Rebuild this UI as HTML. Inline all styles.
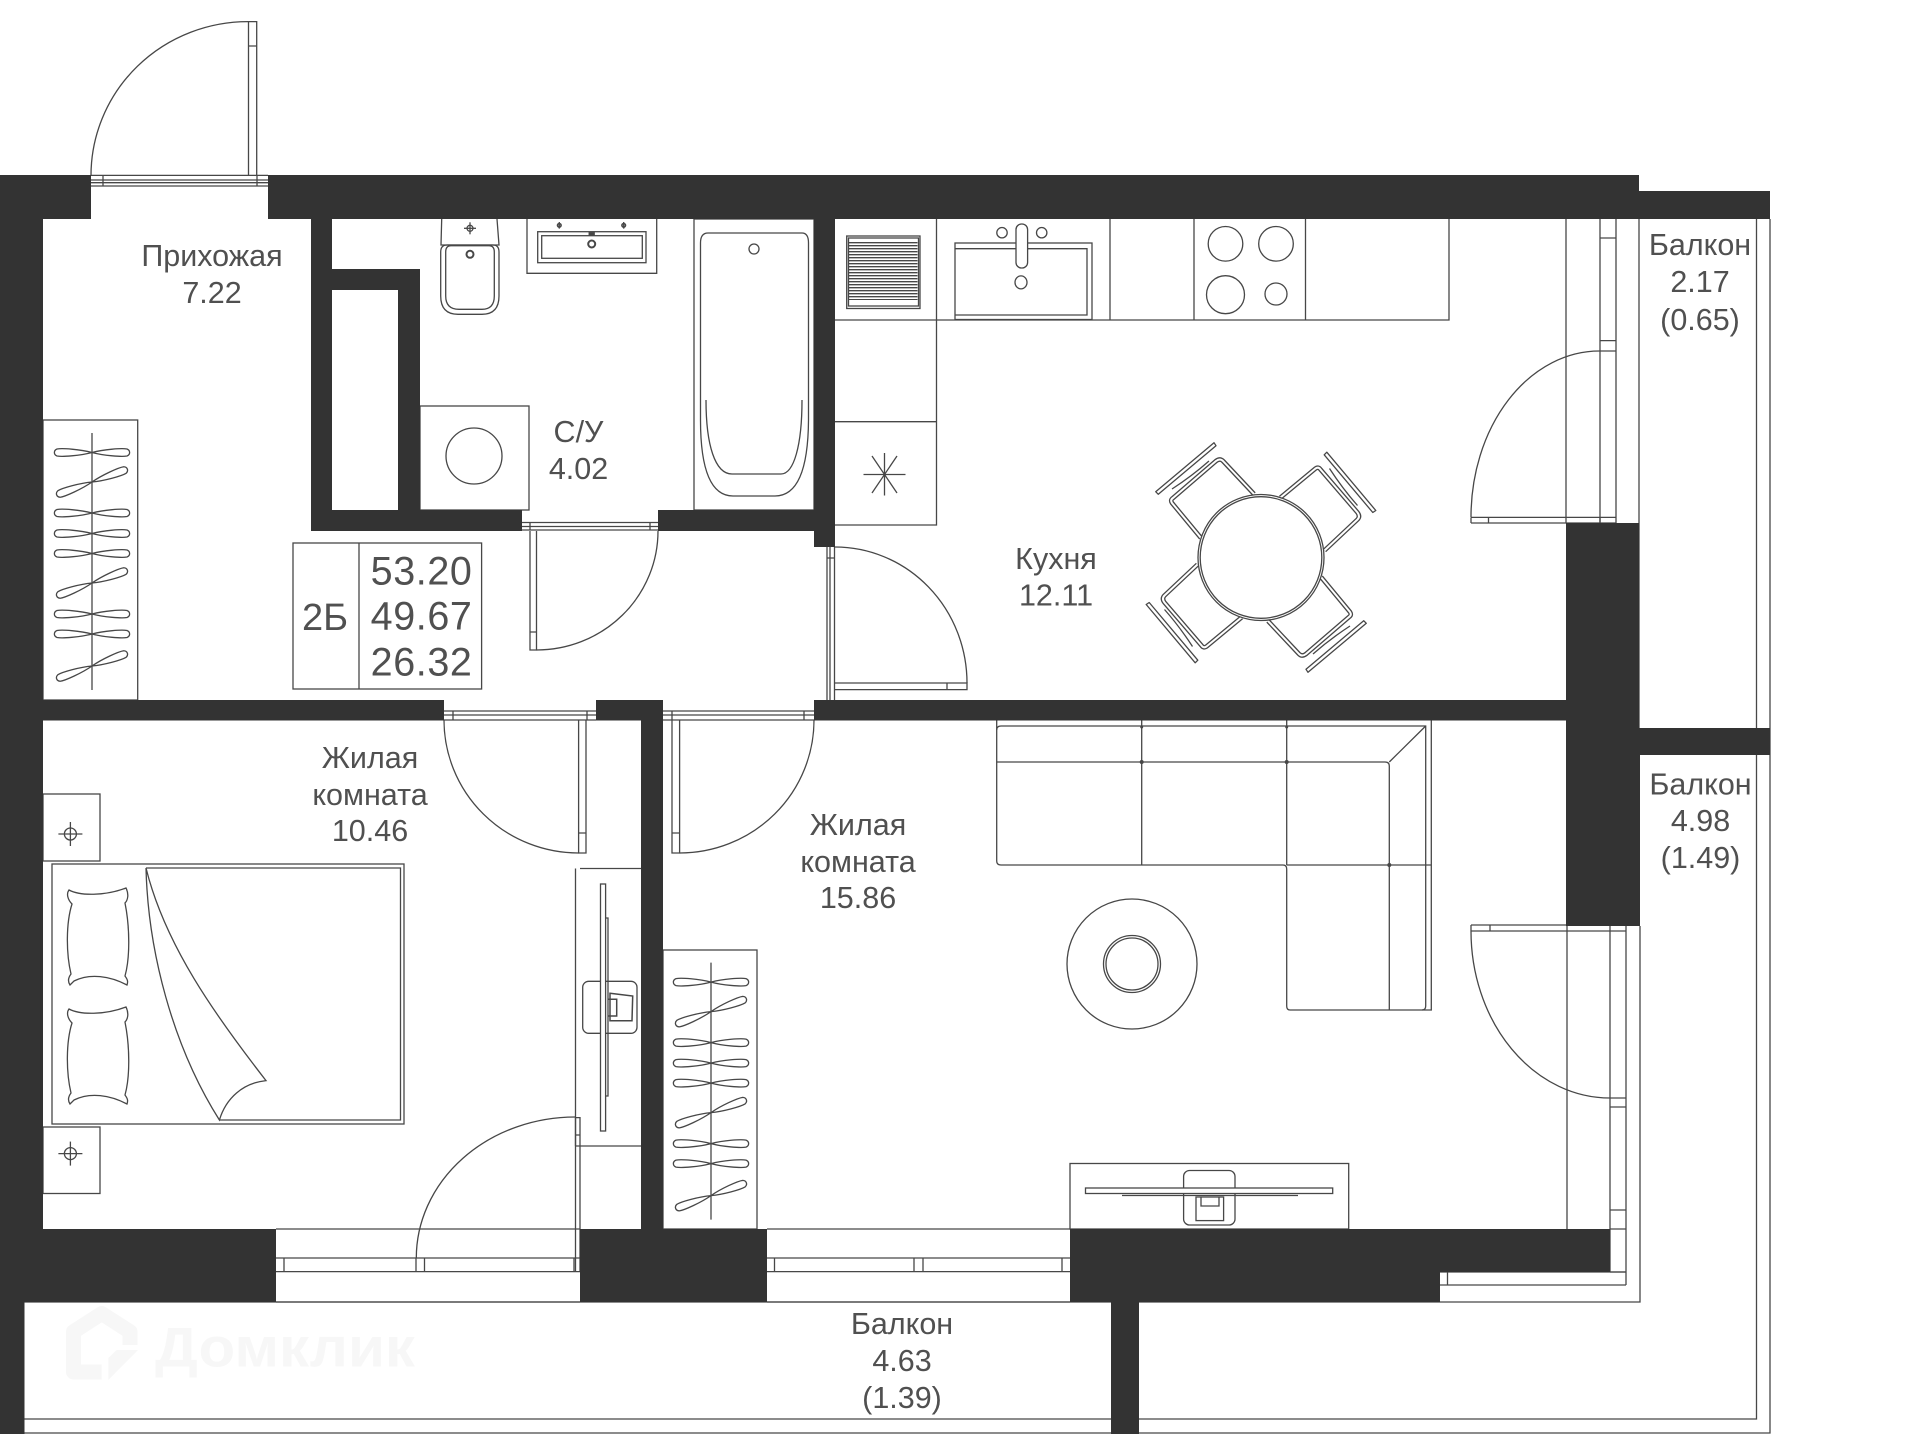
<!DOCTYPE html>
<html lang="ru"><head><meta charset="utf-8"><title>План квартиры</title>
<style>html,body{margin:0;padding:0;background:#fff}svg{display:block}
text{font-family:"Liberation Sans","DejaVu Sans",sans-serif;fill:#505050;text-anchor:middle;font-size:30.500px}
.n{font-size:39.500px;letter-spacing:.6px}
</style></head><body>
<svg width="1920" height="1434" viewBox="0 0 1920 1434" xmlns="http://www.w3.org/2000/svg">
<defs>
<path id="h" d="M0 0C-12-3.200-30-4.500-35-3.500C-38.500-2-38.500 2-35 3.500C-30 4.500-12 3.200 0 0C12-3.200 30-4.500 35-3.500C38.500-2 38.500 2 35 3.500C30 4.500 12 3.200 0 0Z"/>
<g id="hangers">
<line x1="0" y1="0" x2="0" y2="257"/>
<use href="#h" y="19.500"/><use href="#h" y="49" transform="rotate(-20 0 49)"/><use href="#h" y="80"/><use href="#h" y="100.500"/><use href="#h" y="120.500"/><use href="#h" y="150" transform="rotate(-20 0 150)"/><use href="#h" y="181"/><use href="#h" y="201"/><use href="#h" y="233" transform="rotate(-20 0 233)"/>
</g>
<g id="cross"><circle r="6"/><line x1="-12" x2="12"/><line y1="-12" y2="12"/></g>
<g id="chair">
<path d="M1155.700 491.700L1214 442.700L1216 445.700L1158.300 494.300Z" stroke-linejoin="round"/>
<path d="M1172 489Q1192 476 1209 461"/>
<path d="M1201 538L1172 503Q1170 500 1173 498L1216 461Q1220 458 1223 461L1254 494" stroke-width="4.600" stroke-linejoin="round"/>
<path d="M1201 538L1172 503Q1170 500 1173 498L1216 461Q1220 458 1223 461L1254 494" stroke="#fff" stroke-width="2" stroke-linejoin="round"/>
</g>
<path id="pillow" d="M69 2C80 8 105 8 126 0C129 6 128 12 125 15C130 40 130 70 125 88C128 92 128 94 127 97C110 88 90 85 74 93L70 97C68 94 68 90 71 86C66 65 66 35 72 16C68 12 66 6 69 2Z"/>
</defs>
<rect width="1920" height="1434" fill="#fff"/>

<!-- watermark -->
<path d="M101.700 1372H73.500V1331.700L101.700 1313.500L130 1331.700V1345" fill="none" stroke="#f7f7f7" stroke-width="15" stroke-linejoin="round"/>
<path d="M108.300 1380V1358L116.700 1350H138Z" fill="#f7f7f7"/>
<text x="285" y="1366.700" textLength="260" lengthAdjust="spacingAndGlyphs" style="font-size:56px;font-weight:bold;fill:#f7f7f7">Домклик</text>

<!-- thin lines under everything -->
<g fill="none" stroke="#474747" stroke-width="1.300">
<!-- balcony outline -->
<path d="M24.500 1302H1640V926M1639 219V728M1756.500 219V1419H24.500M1770 219V1433H24.500"/>
<!-- windows bottom -->
<path d="M276 1229H580M276 1258H580M276 1271.600H580M276 1302H580M284 1258V1271.600M416 1258V1271.600M424.500 1258V1271.600M574 1258V1271.600"/>
<path d="M767 1229H1070M767 1258H1070M767 1271.600H1070M767 1302H1070M774.500 1258V1271.600M914 1258V1271.600M923 1258V1271.600M1062 1258V1271.600"/>
<!-- entry door -->
<path d="M91 175.400H268M91 180H268M91 182.700H268M91 186H268M103 175.400V186M257 175.400V186"/>
<path d="M248.500 175V21.600H256.700V175M248.500 46H256.700"/>
<path d="M91 175A157 154 0 0 1 248.500 21.600"/>
<!-- bath door -->
<path d="M522 522.500H658M522 526.500H658M522 530H658M530 522.500V530M650 522.500V530"/>
<path d="M530 531V650H536.500V531M530 632H536.500"/>
<path d="M536.500 650A121.500 119 0 0 0 658 531"/>
<!-- kitchen door -->
<path d="M827 547V700M830 547V700M834.500 547V700M827 558H835"/>
<path d="M835 683H967V689.600H835M947 683V689.600"/>
<path d="M835 547A132 136 0 0 1 967 683"/>
<!-- bedroom door -->
<path d="M444 711H596M444 715H596M444 720H596M453 711V720M587 711V720"/>
<path d="M578.600 720V853H586V720M578.600 833H586"/>
<path d="M444 720A134.600 133 0 0 0 578.600 853"/>
<!-- living door -->
<path d="M663 711H814M663 715H814M663 720H814M672 711V720M804 711V720"/>
<path d="M672 720V853H679.600V720M672 833H679.600"/>
<path d="M679.600 853A134.400 133 0 0 0 814 720"/>
<!-- kitchen balcony door -->
<path d="M1566 219V523M1600 219V523M1616 219V523M1600 238H1616M1600 340.600H1616M1600 351H1616"/>
<path d="M1471 517.400H1616M1471 523H1616M1471 517.400V523M1488.500 517.400V523M1600 517.400V523"/>
<path d="M1599.500 351A128.500 166 0 0 0 1471 517"/>
<!-- living balcony door -->
<path d="M1567 926V1229M1610 926V1272M1626 926V1285M1610 1098H1626M1610 1107H1626M1610 1210H1626M1610 1229H1626M1610 1272H1626"/>
<path d="M1471 925H1626M1471 931H1626M1471 925V931M1490 925V931"/>
<path d="M1471 931A139 167 0 0 0 1610 1098"/>
<path d="M1440 1272H1626M1440 1285H1626M1447.500 1272V1285"/>
<!-- bedroom balcony door -->
<path d="M575.500 1272V1117.600H580V1272M575.500 1135H580"/>
<path d="M416.300 1258A159 141 0 0 1 575.500 1117"/>

<!-- wardrobes -->
<rect x="43" y="420" width="94.700" height="280"/>
<use href="#hangers" x="92" y="433"/>
<use href="#hangers" x="711" y="962.600"/>
<rect x="663" y="950" width="94" height="279"/>

<!-- info box -->
<rect x="293" y="543" width="188.600" height="146"/><line x1="359" y1="543" x2="359" y2="689"/>

<!-- toilet -->
<path d="M441.700 219L441 245H499L497 219"/>
<path d="M447 245H493Q499 245 499 252V296Q499 314.300 482 314.300H458Q440.700 314.300 440.700 296V252Q440.700 245 447 245Z"/>
<path d="M451 245.700H489Q494.300 245.700 494.300 252V296Q494.300 309.300 482 309.300H459Q445.700 309.300 445.700 296V252Q445.700 245.700 451 245.700Z"/>
<g transform="translate(470 228.300)"><circle r="3"/><line x1="-6" x2="6"/><line y1="-6" y2="6"/></g>
<circle cx="470" cy="254.300" r="3.500" stroke-width="2"/>
<!-- sink -->
<path d="M527 219V273.300H656.700V219"/>
<rect x="537.700" y="231.700" width="108.300" height="31"/><rect x="541.700" y="235.700" width="100.600" height="22.600"/>
<circle cx="591.700" cy="244" r="3.500" stroke-width="2"/>
<circle cx="559.300" cy="225.300" r="1.800" stroke-width="1.600"/><circle cx="623.700" cy="225.300" r="1.800" stroke-width="1.600"/>
<path d="M559.300 222V228.600M623.700 222V228.600"/>
<rect x="589.200" y="232.700" width="5" height="2.500" fill="#474747"/>
<!-- bath -->
<rect x="694" y="219" width="120" height="291"/>
<path d="M708 233H802Q808.500 233 808.500 243V420Q808 496 775 496H733Q700.500 496 700.500 420V243Q700.500 233 708 233Z"/>
<circle cx="754" cy="249" r="5"/>
<path d="M706 400C706 445 715 474 732 474H781C794 474 802 445 802 400"/>
<!-- washer -->
<rect x="420" y="406" width="109" height="104"/><circle cx="474" cy="456" r="28"/>

<!-- kitchen -->
<path d="M835 320H1449V219M936.500 219V525H835M936.500 421.700H835M1110 219V320M1194 219V320M1305.500 219V320"/>
<rect x="846.700" y="236" width="73.300" height="72.500"/><rect x="848.500" y="238" width="70" height="68"/>
<line x1="883" y1="242" x2="883" y2="300" stroke-width="69" stroke-dasharray="1.400 1.600"/>
<rect x="955" y="243" width="137" height="76.500"/><path d="M955 248.700H1087V315H955"/>
<rect x="1016" y="224" width="11.600" height="44" rx="5.500" fill="#fff"/>
<circle cx="1002" cy="232.700" r="5.200"/><circle cx="1041.700" cy="232.700" r="5.200"/><ellipse cx="1021" cy="282.400" rx="6" ry="6.500"/>
<circle cx="1225.500" cy="243.800" r="17.300"/><circle cx="1276" cy="243.800" r="17.300"/><circle cx="1225.500" cy="294.700" r="19"/><circle cx="1276" cy="294" r="11"/>
<path d="M863.500 474.500H905.500M884.500 453V495.500M872 456L897 493M897 456L872 493"/>
<!-- table and chairs -->
<use href="#chair"/>
<use href="#chair" transform="rotate(90 1261 557.500)"/>
<use href="#chair" transform="rotate(180 1261 557.500)"/>
<use href="#chair" transform="rotate(270 1261 557.500)"/>
<circle cx="1261" cy="557.500" r="63" fill="#fff"/><circle cx="1261" cy="557.500" r="60.800"/>

<!-- sofa -->
<path d="M1431.300 720V1010H1290Q1286.700 1010 1286.700 1006V869Q1286.700 865 1283 865H1001Q996.700 865 996.700 861V720"/>
<path d="M996.700 730Q996.700 726 1001 726H1425.700V1006Q1425.700 1010 1422 1010"/>
<path d="M996.700 762H1385Q1389.300 762 1389.300 766V1010M1286.700 865H1431.300M1141.700 720V865M1286.700 720V865M1389.300 762L1425.700 726"/>
<g fill="#474747" stroke="none"><circle cx="1141.700" cy="762" r="2"/><circle cx="1286.700" cy="762" r="2"/><circle cx="1389.300" cy="865" r="2"/><circle cx="1141.700" cy="727" r="1.500"/><circle cx="1286.700" cy="727" r="1.500"/></g>
<!-- rug -->
<circle cx="1132" cy="964" r="65"/><circle cx="1132" cy="964" r="28.500"/><circle cx="1132" cy="964" r="26"/>
<!-- living TV -->
<rect x="1070" y="1163.500" width="278.700" height="65.500"/>
<rect x="1183.600" y="1170.500" width="51.400" height="54.500" rx="6"/>
<rect x="1196" y="1197" width="27.600" height="23.600"/><path d="M1201 1197V1206H1219V1197"/>
<rect x="1085.500" y="1188" width="247.200" height="5.500" fill="#fff"/><path d="M1122 1195.500H1298"/>

<!-- nightstands -->
<rect x="43" y="794" width="57" height="67"/><rect x="43" y="1127" width="57" height="66.500"/>
<use href="#cross" x="70.400" y="834"/><use href="#cross" x="70.400" y="1153.600"/>
<!-- bed -->
<rect x="52" y="864" width="352" height="260"/>
<path d="M146 868H400.500V1120H219.400"/>
<path d="M146 868C148 950 172 1045 219.400 1120C226 1098 243 1083 266 1080.600C215 1015 165 945 146 868Z"/>
<use href="#pillow" y="888"/><use href="#pillow" y="1007"/>
<!-- bedroom TV -->
<path d="M580 868.500H641M575.500 1146H641M575.500 868.500V1146"/>
<rect x="582.700" y="981.300" width="54.300" height="52" rx="6"/>
<path d="M610 993.300L632.700 996L632 1020.700H610ZM607.700 999.300H616.700V1016H607.700" stroke-width="1.500"/>
<rect x="600.500" y="884" width="5.100" height="247" fill="#fff"/><path d="M605.600 918H608V1096H605.600"/>
</g>

<!-- walls -->
<g fill="#333">
<path d="M0 175H91V219H43V700H444V720.500H43V1229H276V1302H24.500V1434H0Z"/>
<path d="M268 175H1639V191H1770V219H268Z"/>
<path d="M311 219H332V269H420V510H522V531H311ZM332 290V510H398V290Z" fill-rule="evenodd"/>
<path d="M658 510H814V219H835V547H814V531H658Z"/>
<path d="M596 700H663V1229H767V1302H580V1229H641V720.500H596Z"/>
<path d="M814 700H1566V523H1639V728H1770V755H1640V926H1566V720.500H814Z"/>
<path d="M1070 1229H1610V1272H1440V1302H1139V1434H1111V1302H1070Z"/>
</g>

<!-- labels -->
<text x="212" y="266">Прихожая</text><text x="212" y="303">7.22</text>
<text x="578.500" y="442">С/У</text><text x="578.500" y="479">4.02</text>
<text x="1056" y="569">Кухня</text><text x="1056" y="605.500">12.11</text>
<text x="1700" y="255">Балкон</text><text x="1700" y="292">2.17</text><text x="1700" y="330">(0.65)</text>
<text x="370" y="768">Жилая</text><text x="370" y="805">комната</text><text x="370" y="841">10.46</text>
<text x="858" y="835">Жилая</text><text x="858" y="872">комната</text><text x="858" y="908">15.86</text>
<text x="1700.500" y="794.500">Балкон</text><text x="1700.500" y="831">4.98</text><text x="1700.500" y="868">(1.49)</text>
<text x="902" y="1334">Балкон</text><text x="902" y="1371">4.63</text><text x="902" y="1408">(1.39)</text>
<text class="n" x="421.600" y="584.500">53.20</text><text class="n" x="421.600" y="629.500">49.67</text><text class="n" x="421.600" y="675.500">26.32</text>
<text x="325" y="630" style="font-size:38px">2Б</text>
</svg>
</body></html>
